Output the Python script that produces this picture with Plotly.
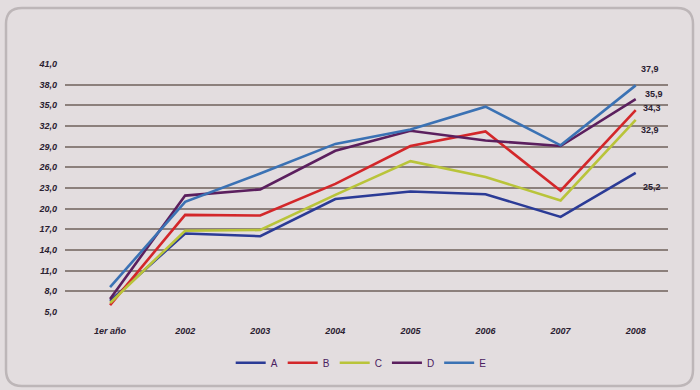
import plotly.graph_objects as go

categories = ["1er año", "2002", "2003", "2004", "2005", "2006", "2007", "2008"]

series_names = ["A", "B", "C", "D", "E"]
values_a = [6.6, 16.4, 16.0, 21.4, 22.5, 22.1, 18.8, 25.2]
values_b = [6.0, 19.1, 19.0, 23.6, 29.1, 31.2, 22.6, 34.3]
values_c = [6.3, 16.8, 16.9, 22.0, 26.9, 24.6, 21.2, 32.9]
values_d = [6.9, 21.9, 22.8, 28.4, 31.3, 29.9, 29.1, 35.9]
values_e = [8.6, 21.0, 25.1, 29.4, 31.5, 34.8, 29.2, 37.9]
series_values = [values_a, values_b, values_c, values_d, values_e]

colors = ["#2b3b96", "#d3272a", "#b9c43a", "#5b1f5e", "#3b72b4"]
# pixel offsets of each end-of-line value label
label_shift = [(16, -14), (16, 2), (14, -10), (18, 5), (14, 16)]
y_ticks = [5.0, 8.0, 11.0, 14.0, 17.0, 20.0, 23.0, 26.0, 29.0, 32.0, 35.0, 38.0, 41.0]

W, H = 700, 390
L, R, T, B = 65, 32, 64, 78
label_font = dict(family="Liberation Sans", size=9, color="#2a2030")

fig = go.Figure()
for name, vals, col in zip(series_names, series_values, colors):
    fig.add_trace(go.Scatter(
        x=categories, y=vals, name=name, mode="lines",
        line=dict(color=col, width=2.6),
    ))

for vals, (dx, dy) in zip(series_values, label_shift):
    fig.add_annotation(
        x=len(categories) - 1, y=vals[-1], xref="x", yref="y",
        text="<b>" + f"{vals[-1]:.1f}".replace(".", ",") + "</b>",
        showarrow=False, xshift=dx, yshift=dy,
        font=dict(family="Liberation Sans", size=9, color="#2a2030"),
    )

# rounded outer frame, given in pixels and mapped to paper coordinates
pw, ph = W - L - R, H - T - B
def px(x):
    return (x - L) / pw
def py(y):
    return (H - B - y) / ph
fx0, fx1, fy0, fy1, rad = 6, 693, 8, 386, 16
frame_path = (
    f"M {px(fx0 + rad)},{py(fy0)} L {px(fx1 - rad)},{py(fy0)} "
    f"Q {px(fx1)},{py(fy0)} {px(fx1)},{py(fy0 + rad)} "
    f"L {px(fx1)},{py(fy1 - rad)} Q {px(fx1)},{py(fy1)} {px(fx1 - rad)},{py(fy1)} "
    f"L {px(fx0 + rad)},{py(fy1)} Q {px(fx0)},{py(fy1)} {px(fx0)},{py(fy1 - rad)} "
    f"L {px(fx0)},{py(fy0 + rad)} Q {px(fx0)},{py(fy0)} {px(fx0 + rad)},{py(fy0)} Z"
)

fig.update_layout(
    width=W, height=H,
    margin=dict(l=L, r=R, t=T, b=B),
    paper_bgcolor="#e3dddf",
    plot_bgcolor="#e3dddf",
    separators=",.",
    showlegend=True,
    legend=dict(
        orientation="h", xref="container", yref="container",
        x=0.516, xanchor="center", y=0.07, yanchor="middle",
        font=dict(family="Liberation Sans", size=10, color="#4a2060"),
        itemwidth=30, bgcolor="rgba(0,0,0,0)",
    ),
    xaxis=dict(
        type="category", range=[-0.6, 7.43],
        showgrid=False, zeroline=False, showline=False,
        tickfont=label_font, ticks="", ticklabelstandoff=12,
        tickvals=categories, ticktext=[f"<b><i>{c}</i></b>" for c in categories],
    ),
    yaxis=dict(
        range=[5, 41], tickvals=y_ticks,
        ticktext=[f"<b><i>{v:.1f}</i></b>".replace(".", ",") for v in y_ticks],
        showgrid=True, gridcolor="#8c807c", gridwidth=1.6,
        zeroline=False, showline=False, ticks="",
        tickfont=label_font, ticklabelstandoff=7,
    ),
    shapes=[dict(
        type="path", xref="paper", yref="paper", path=frame_path,
        line=dict(color="#bdb6b8", width=2.5), fillcolor="rgba(0,0,0,0)", layer="below",
    )],
)

fig.write_html("out.html")
